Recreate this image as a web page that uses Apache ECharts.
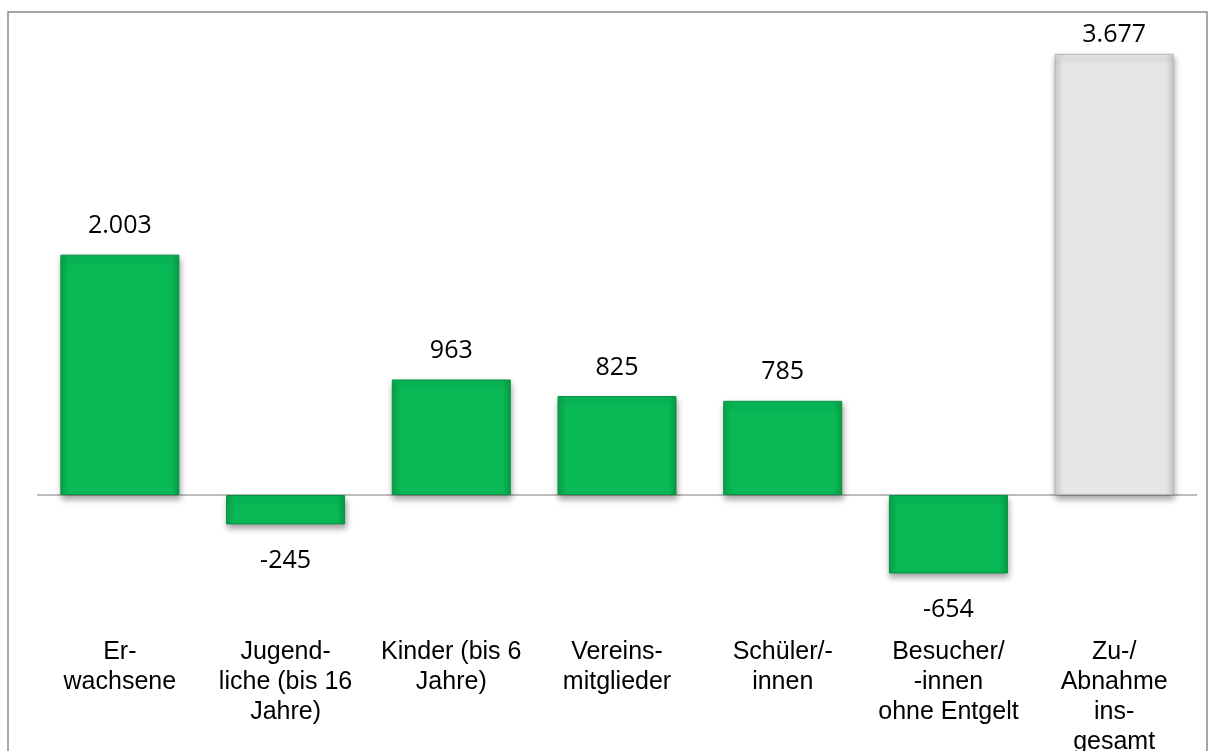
<!DOCTYPE html>
<html>
<head>
<meta charset="utf-8">
<script src="https://cdn.jsdelivr.net/npm/echarts@6/dist/echarts.min.js"></script>
<style>
html,body{margin:0;padding:0;background:#fff;}
#chart{width:1210px;height:751px;}
</style>
</head>
<body>
<div id="chart"></div>
<script>
const categories = [
  "Er-\nwachsene",
  "Jugend-\nliche (bis 16\nJahre)",
  "Kinder (bis 6\nJahre)",
  "Vereins-\nmitglieder",
  "Schüler/-\ninnen",
  "Besucher/\n-innen\nohne Entgelt",
  "Zu-/\nAbnahme\nins-\ngesamt"
];
const values = [2003, -245, 963, 825, 785, -654, 3677];
const totalIndex = 6;

function fmt(v) {
  const s = String(Math.abs(v)).replace(/\B(?=(\d{3})+(?!\d))/g, '.');
  return (v < 0 ? '-' : '') + s;
}

const greenFill = new echarts.graphic.LinearGradient(0, 0, 1, 0, [
  {offset: 0, color: '#07a84a'},
  {offset: 0.07, color: '#09b956'},
  {offset: 0.93, color: '#09b956'},
  {offset: 1, color: '#07a148'}
]);
const grayFill = new echarts.graphic.LinearGradient(0, 0, 1, 0, [
  {offset: 0, color: '#d2d2d2'},
  {offset: 0.07, color: '#e6e6e6'},
  {offset: 0.93, color: '#e6e6e6'},
  {offset: 1, color: '#cfcfcf'}
]);

const chart = echarts.init(document.getElementById('chart'));
chart.setOption({
  animation: false,
  backgroundColor: '#ffffff',
  grid: {left: 37, right: 13, top: 15, bottom: 136, containLabel: false, outerBoundsMode: 'none'},
  graphic: [{
    type: 'rect',
    shape: {x: 8, y: 12, width: 1199, height: 760},
    style: {fill: 'none', stroke: '#8a8a8a', lineWidth: 1.5},
    silent: true
  }],
  xAxis: {
    type: 'category',
    data: categories,
    axisLine: {show: false, onZero: false},
    axisTick: {show: false},
    axisLabel: {
      interval: 0,
      margin: 22,
      fontFamily: 'Liberation Sans, Arial, sans-serif',
      fontSize: 25,
      lineHeight: 30,
      color: '#000',
      align: 'center'
    }
  },
  yAxis: {
    type: 'value',
    min: -1000,
    max: 4000,
    interval: 1000,
    show: false,
    splitLine: {show: false}
  },
  series: [{
    type: 'bar',
    barWidth: 119,
    data: values.map((v, i) => ({
      value: v,
      label: {
        position: v < 0 ? 'bottom' : 'top',
        distance: v < 0 ? 24 : (i === totalIndex ? 6 : 16)
      },
      itemStyle: {
        color: i === totalIndex ? grayFill : greenFill,
        borderColor: i === totalIndex ? '#b5b5b5' : '#069243',
        borderWidth: 1
      }
    })),
    itemStyle: {
      shadowColor: 'rgba(0,0,0,0.35)',
      shadowBlur: 6,
      shadowOffsetY: 4,
      shadowOffsetX: 1
    },
    label: {
      show: true,
      fontFamily: 'Open Sans, Noto Sans, sans-serif',
      fontSize: 25,
      color: '#000',
      formatter: p => fmt(p.value)
    },
    markLine: {
      silent: true,
      symbol: 'none',
      label: {show: false},
      lineStyle: {color: '#a6a6a6', type: 'solid', width: 1.5},
      data: [{yAxis: 0}],
      z: 1
    },
    z: 3
  }]
});
</script>
</body>
</html>
